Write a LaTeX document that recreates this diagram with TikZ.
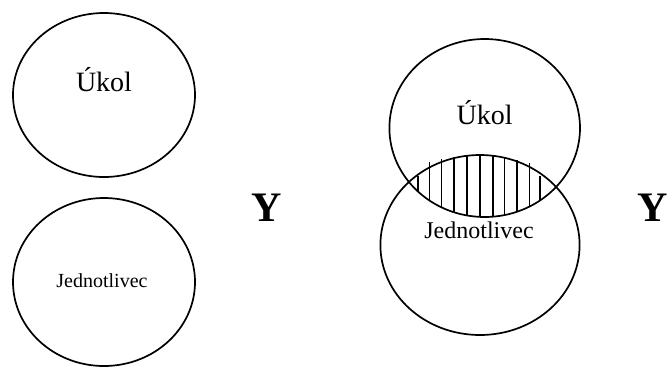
\documentclass[tikz,border=0pt]{standalone}
\usepackage{fontspec}
\setmainfont{Liberation Serif}
\begin{document}
\begin{tikzpicture}[x=1pt,y=-1pt,
  ring/.style={draw=black,line width=1.7pt},
  hatchline/.style={draw=black,line width=1.6pt},
  label/.style={inner sep=0pt,anchor=base},
  conj/.style={inner sep=0pt,font=\bfseries\fontsize{42}{42}\selectfont}]
\useasboundingbox (0,0) rectangle (668,367);

% separate sets
\draw[ring] (104,95) ellipse [x radius=91,y radius=82];
\draw[ring] (104,282) ellipse [x radius=91,y radius=84];
\node[label,font=\fontsize{28}{28}\selectfont] (ukolA) at (104,91) {Úkol};
\node[label,font=\fontsize{20}{20}\selectfont] (jedA) at (102,287) {Jednotlivec};

\node[conj] (yA) at (267,208) {Y};

% overlapping sets with hatched intersection
\begin{scope}
  \clip (484.7,128) ellipse [x radius=95.3,y radius=89];
  \foreach \hx/\hy in {418/176,429.5/162,441.5/159,454/157,467/155,480/155,493/155,504.5/157,517/160,529.5/163,540/176}
    \draw[hatchline] (\hx,\hy) -- (\hx,232);
\end{scope}
\draw[ring] (484.7,128) ellipse [x radius=95.3,y radius=89];
\draw[ring] (480,245) ellipse [x radius=99.6,y radius=90];
\node[label,font=\fontsize{28}{28}\selectfont] (ukolB) at (484.7,124) {Úkol};
\node[label,font=\fontsize{24}{24}\selectfont] (jedB) at (479,238) {Jednotlivec};

\node[conj] (yB) at (653,208) {Y};
\end{tikzpicture}
\end{document}
